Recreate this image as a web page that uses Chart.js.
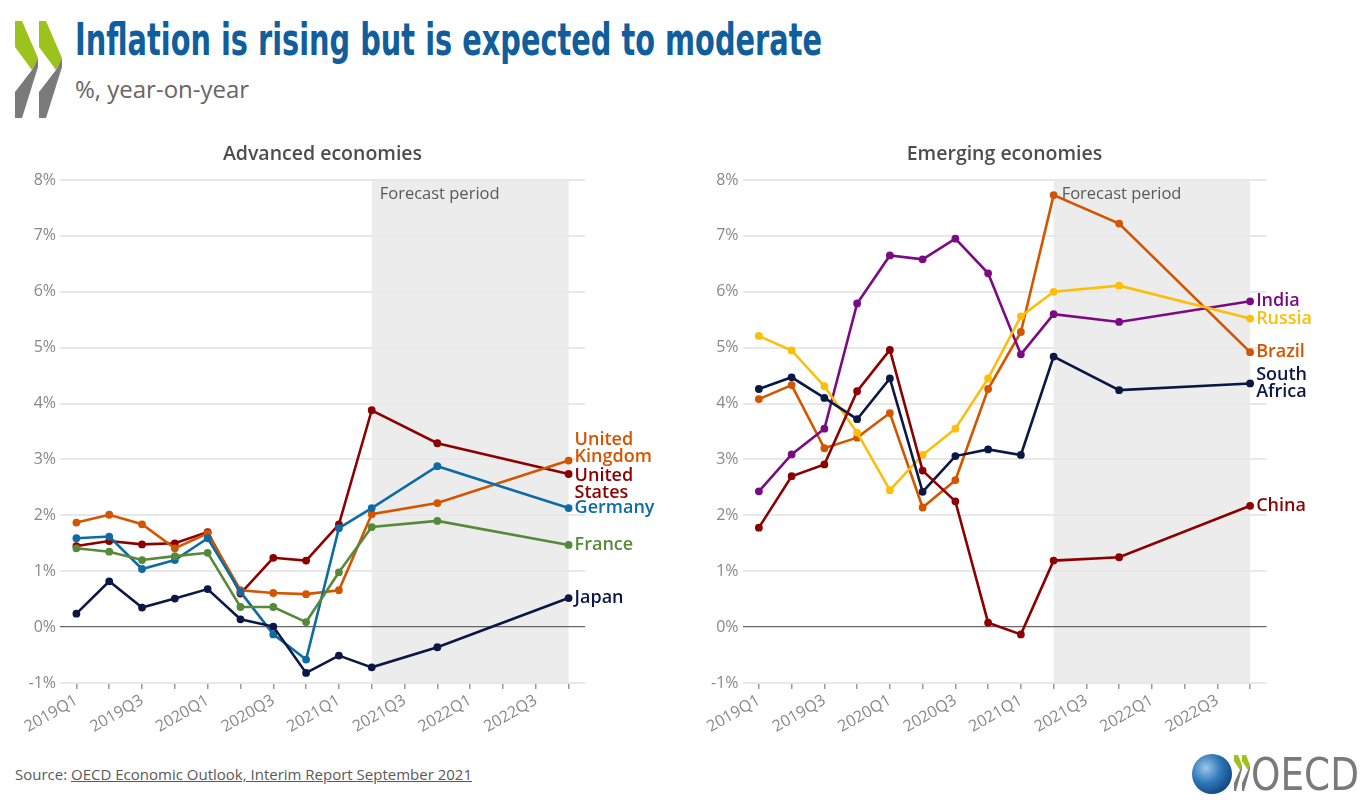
<!DOCTYPE html>
<html>
<head>
<meta charset="utf-8">
<script src="https://cdn.jsdelivr.net/npm/chart.js@4"></script>
<style>
  body { margin: 0; background: #fff; width: 1370px; height: 808px; overflow: hidden; position: relative; font-family: "Open Sans", "Noto Sans", sans-serif; }
  #title { position: absolute; left: 75px; top: 14px; font-family: "Liberation Sans Narrow", "DejaVu Sans Condensed", sans-serif; font-weight: bold; font-size: 44px; color: #105e9c; white-space: nowrap; transform-origin: 0 0; }
  #subtitle { position: absolute; left: 75px; top: 72px; font-size: 24px; color: #666; }
  #source { position: absolute; left: 15px; top: 764px; font-size: 15px; color: #595959; }
  #source span { text-decoration: underline; }
  canvas { position: absolute; top: 130px; }
  #oecdTxt { position: absolute; left: 1251px; top: 748px; font-family: "Liberation Sans Narrow", "DejaVu Sans Condensed", sans-serif; font-size: 45px; color: #7a7a7a; transform-origin: 0 0; }
</style>
</head>
<body>
<svg width="80" height="125" style="position:absolute;left:0;top:0">
  <polygon points="15,21 22,21 38,58 32,70 15,47" fill="#9bc31c"/>
  <polygon points="32,70 38,58 38,67 22,118 15,118 15,92" fill="#7a7a7a"/>
  <polygon points="39,21 46,21 62,58 56,70 39,47" fill="#9bc31c"/>
  <polygon points="56,70 62,58 62,67 46,118 39,118 39,92" fill="#7a7a7a"/>
</svg>
<div id="title">Inflation is rising but is expected to moderate</div>
<div id="subtitle">%, year-on-year</div>
<canvas id="gAvancadas" width="685" height="620" style="left:0px"></canvas>
<canvas id="gEmergentes" width="685" height="620" style="left:685px"></canvas>
<div id="source">Source: <span>OECD Economic Outlook, Interim Report September 2021</span></div>
<svg width="70" height="60" style="position:absolute;left:1185px;top:745px">
  <defs>
    <radialGradient id="globo" cx="0.35" cy="0.35" r="0.75">
      <stop offset="0" stop-color="#9cc7ea"/>
      <stop offset="0.5" stop-color="#2f78b8"/>
      <stop offset="1" stop-color="#0b3f78"/>
    </radialGradient>
  </defs>
  <circle cx="27" cy="29" r="20" fill="url(#globo)"/>
  <polygon points="49,10 53,10 57,20 55,25 49,16" fill="#9bc31c"/>
  <polygon points="55,25 57,20 57,24 51,46 49,46 49,38" fill="#7a7a7a"/>
  <polygon points="57,10 61,10 65,20 63,25 57,16" fill="#9bc31c"/>
  <polygon points="63,25 65,20 65,24 59,46 57,46 57,38" fill="#7a7a7a"/>
</svg>
<div id="oecdTxt">OECD</div>
<script>
// ajusta larguras dos textos condensados
function esticar(id, largura) {
    var el = document.getElementById(id);
    var w = el.getBoundingClientRect().width;
    el.style.transform = "scaleX(" + (largura / w) + ")";
}
esticar("title", 747);
esticar("oecdTxt", 108);

var trimestres = ["2019Q1", "2019Q2", "2019Q3", "2019Q4", "2020Q1", "2020Q2", "2020Q3", "2020Q4",
    "2021Q1", "2021Q2", "2021Q3", "2021Q4", "2022Q1", "2022Q2", "2022Q3", "2022Q4"];

// Economias avançadas
var reinoUnido = [1.87, 2.01, 1.84, 1.41, 1.68, 0.66, 0.61, 0.59, 0.66, 2.02, null, 2.22, null, null, null, 2.98];
var estadosUnidos = [1.45, 1.54, 1.48, 1.50, 1.70, 0.60, 1.24, 1.19, 1.84, 3.88, null, 3.29, null, null, null, 2.74];
var alemanha = [1.59, 1.62, 1.04, 1.20, 1.59, 0.63, -0.13, -0.58, 1.77, 2.13, null, 2.88, null, null, null, 2.13];
var franca = [1.41, 1.35, 1.20, 1.27, 1.33, 0.36, 0.36, 0.09, 0.98, 1.79, null, 1.90, null, null, null, 1.47];
var japao = [0.24, 0.82, 0.35, 0.51, 0.68, 0.14, 0.01, -0.82, -0.51, -0.72, null, -0.36, null, null, null, 0.52];

// Economias emergentes
var india = [2.43, 3.09, 3.55, 5.79, 6.65, 6.58, 6.95, 6.33, 4.88, 5.60, null, 5.46, null, null, null, 5.83];
var russia = [5.21, 4.95, 4.31, 3.48, 2.45, 3.08, 3.55, 4.45, 5.56, 6.00, null, 6.11, null, null, null, 5.52];
var brasil = [4.08, 4.33, 3.20, 3.39, 3.83, 2.14, 2.63, 4.26, 5.28, 7.73, null, 7.22, null, null, null, 4.92];
var africaDoSul = [4.26, 4.47, 4.10, 3.72, 4.45, 2.42, 3.06, 3.18, 3.08, 4.84, null, 4.24, null, null, null, 4.36];
var china = [1.78, 2.70, 2.91, 4.22, 4.96, 2.80, 2.25, 0.08, -0.13, 1.19, null, 1.25, null, null, null, 2.17];

var inicioPrevisao = "2021Q2";
var fimPrevisao = "2022Q4";

var LARANJA = "#d45500", VERMELHO = "#8c0000", AZUL = "#0f6ba3", VERDE = "#568a3a",
    MARINHO = "#0b1846", ROXO = "#7a0b82", AMARELO = "#fbbf0a";

function serie(nome, valores, cor, ancora) {
    return {
        label: nome.join(" "),
        rotulo: nome,
        ancora: ancora || "meio",
        data: valores,
        borderColor: cor,
        backgroundColor: cor,
        pointBackgroundColor: cor,
        pointBorderColor: cor,
        borderWidth: 2.6,
        pointRadius: 2.6,
        pointHoverRadius: 2.6,
        spanGaps: true,
        tension: 0
    };
}

// sombreamento do período de previsão + títulos
var pluginPrevisao = {
    id: "previsao",
    beforeDraw: function (chart) {
        var ctx = chart.ctx, x = chart.scales.x;
        var x0 = x.getPixelForValue(trimestres.indexOf(inicioPrevisao));
        var x1 = x.getPixelForValue(trimestres.indexOf(fimPrevisao));
        var top = chart.chartArea.top, bottom = chart.chartArea.bottom;
        ctx.save();
        ctx.fillStyle = "#ececec";
        ctx.fillRect(x0, top, x1 - x0, bottom - top);
        ctx.fillStyle = "#595959";
        ctx.font = "16.5px 'Open Sans'";
        ctx.textBaseline = "middle";
        ctx.textAlign = "left";
        ctx.fillText("Forecast period", x0 + 8, top + 14);
        ctx.fillStyle = "#4d4d4d";
        ctx.font = "600 19.5px 'Open Sans'";
        ctx.textAlign = "center";
        ctx.fillText(chart.options.tituloPainel, (chart.chartArea.left + chart.chartArea.right) / 2, top - 26);
        ctx.restore();
    },
    afterDatasetsDraw: function (chart) {
        var ctx = chart.ctx;
        ctx.save();
        ctx.font = "600 18px 'Open Sans'";
        ctx.textBaseline = "middle";
        ctx.textAlign = "left";
        chart.data.datasets.forEach(function (ds, i) {
            var pts = chart.getDatasetMeta(i).data;
            var p = pts[pts.length - 1];
            var linhas = ds.rotulo;
            var alt = 17;
            var y0;
            if (ds.ancora === "baixo") y0 = p.y - 4 - (linhas.length - 1) * alt;
            else if (ds.ancora === "cima") y0 = p.y + 2;
            else y0 = p.y - (linhas.length - 1) * alt / 2;
            ctx.fillStyle = ds.borderColor;
            linhas.forEach(function (t, k) {
                ctx.fillText(t, p.x + 6, y0 + k * alt);
            });
        });
        ctx.restore();
    }
};

function renderizarGrafico(canvasId, titulo, datasets, larguraY, folgaDireita) {
    return new Chart(document.getElementById(canvasId), {
        type: "line",
        data: { labels: trimestres, datasets: datasets },
        plugins: [pluginPrevisao],
        options: {
            responsive: false,
            animation: false,
            tituloPainel: titulo,
            layout: { padding: { top: 50, right: folgaDireita, left: 0, bottom: 0 } },
            plugins: { legend: { display: false }, tooltip: { enabled: false }, title: { display: false } },
            scales: {
                x: {
                    offset: true,
                    border: { display: false },
                    grid: { drawOnChartArea: false, drawTicks: true, tickLength: 6, color: "#999", offset: false, lineWidth: 1.5 },
                    ticks: {
                        autoSkip: false,
                        maxRotation: 30,
                        minRotation: 30,
                        padding: 2,
                        color: "#888",
                        font: { family: "Open Sans", size: 16 },
                        callback: function (v, i) { return i % 2 === 0 ? trimestres[i] : ""; }
                    },
                    afterFit: function (s) { s.height = 67; }
                },
                y: {
                    min: -1,
                    max: 8,
                    border: { display: false },
                    grid: {
                        drawTicks: false,
                        color: function (c) { return c.tick.value === 0 ? "#666" : "#e8e8e8"; },
                        lineWidth: function (c) { return c.tick.value === 0 ? 1.3 : 2; }
                    },
                    ticks: {
                        stepSize: 1,
                        padding: 4,
                        color: "#888",
                        font: { family: "Open Sans", size: 16 },
                        callback: function (v) { return v + "%"; }
                    },
                    afterFit: function (s) { s.width = larguraY; }
                }
            }
        }
    });
}

renderizarGrafico("gAvancadas", "Advanced economies", [
    serie(["France"], franca, VERDE),
    serie(["Japan"], japao, MARINHO),
    serie(["Germany"], alemanha, AZUL),
    serie(["United", "Kingdom"], reinoUnido, LARANJA, "baixo"),
    serie(["United", "States"], estadosUnidos, VERMELHO, "cima")
], 60, 100);

renderizarGrafico("gEmergentes", "Emerging economies", [
    serie(["China"], china, VERMELHO),
    serie(["South", "Africa"], africaDoSul, MARINHO),
    serie(["Russia"], russia, AMARELO),
    serie(["India"], india, ROXO),
    serie(["Brazil"], brasil, LARANJA)
], 57.5, 103.5);
</script>
</body>
</html>
